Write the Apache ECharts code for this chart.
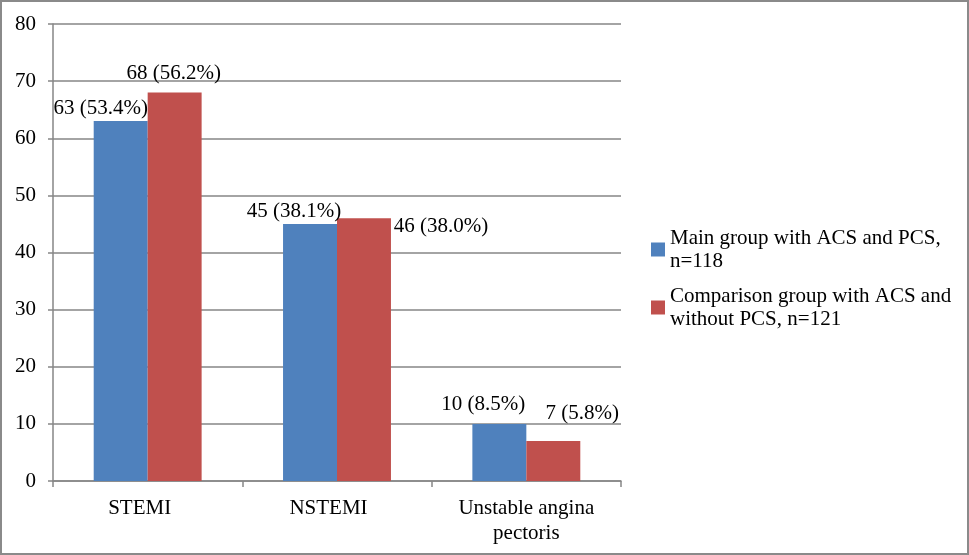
<!DOCTYPE html>
<html>
<head>
<meta charset="utf-8">
<script src="https://cdn.jsdelivr.net/npm/echarts@6/dist/echarts.min.js"></script>
<style>
    html, body { margin: 0; padding: 0; background: #fff; }
    #chart { width: 969px; height: 555px; box-sizing: border-box; border: 2px solid #8a8a8a; }
</style>
</head>
<body>
<div id="chart"></div>
<script>
var categories = ['STEMI', 'NSTEMI', 'Unstable angina\npectoris'];
var seriesNames = ['Main group with ACS and PCS, n=118', 'Comparison group with ACS and without PCS, n=121'];
var legendText = ['Main group with ACS and PCS,\nn=118', 'Comparison group with ACS and\nwithout PCS, n=121'];
var mainCounts = [63, 45, 10];
var mainPercents = ['53.4', '38.1', '8.5'];
var compCounts = [68, 46, 7];
var compPercents = ['56.2', '38.0', '5.8'];
var yTicks = { min: 0, max: 80, interval: 10 };

// label nudges, the labels in the original were placed by hand
var mainOffsets = [[-20, 3], [-16, 3], [-16, -4]];
var compOffsets = [[-1, -4], [77, 24], [29, -12]];
// single line category labels sit a bit left of centre in the original
var catPadRight = [16, 17, 0];

const myChart = echarts.init(document.getElementById('chart'), null, { width: 965, height: 551 });

var font = 'Liberation Serif, Times New Roman, serif';

function buildData(counts, percents, offsets) {
    var out = [];
    for (var i = 0; i < counts.length; i++) {
        out.push({
            value: counts[i],
            label: {
                formatter: counts[i] + ' (' + percents[i] + '%)',
                offset: offsets[i]
            }
        });
    }
    return out;
}

var xData = [];
for (var c = 0; c < categories.length; c++) {
    xData.push({
        value: categories[c],
        textStyle: { padding: [0, catPadRight[c], 0, 0] }
    });
}

var labelStyle = {
    show: true,
    position: 'top',
    distance: 5,
    color: '#000',
    fontFamily: font,
    fontSize: 21
};

const option = {
    animation: false,
    backgroundColor: '#fff',
    grid: {
        left: 51,
        right: 346,
        top: 22,
        bottom: 72
    },
    legend: {
        orient: 'vertical',
        left: 644,
        top: 208,
        itemWidth: 14,
        itemHeight: 14,
        itemGap: -11,
        icon: 'rect',
        data: seriesNames,
        formatter: function (name) {
            return legendText[seriesNames.indexOf(name)];
        },
        textStyle: {
            color: '#000',
            fontFamily: font,
            fontSize: 21,
            lineHeight: 23,
            padding: [23, 0, 0, 0]
        }
    },
    xAxis: {
        type: 'category',
        data: xData,
        axisLine: { lineStyle: { color: '#868686', width: 1.5 } },
        axisTick: { show: true, length: 6, lineStyle: { color: '#868686', width: 1.5 } },
        axisLabel: {
            color: '#000',
            fontFamily: font,
            fontSize: 21,
            lineHeight: 25,
            margin: 15
        }
    },
    yAxis: {
        type: 'value',
        min: yTicks.min,
        max: yTicks.max,
        interval: yTicks.interval,
        axisLine: { show: true, lineStyle: { color: '#868686', width: 1.5 } },
        axisTick: { show: true, length: 5, lineStyle: { color: '#868686', width: 1.5 } },
        splitLine: { lineStyle: { color: '#868686', width: 1.5 } },
        axisLabel: {
            color: '#000',
            fontFamily: font,
            fontSize: 21,
            margin: 17
        }
    },
    series: [
        {
            name: seriesNames[0],
            type: 'bar',
            barGap: '0%',
            barCategoryGap: '43%',
            itemStyle: { color: '#4f81bd' },
            label: labelStyle,
            data: buildData(mainCounts, mainPercents, mainOffsets)
        },
        {
            name: seriesNames[1],
            type: 'bar',
            itemStyle: { color: '#c0504d' },
            label: labelStyle,
            data: buildData(compCounts, compPercents, compOffsets)
        }
    ]
};
myChart.setOption(option);
</script>
</body>
</html>
